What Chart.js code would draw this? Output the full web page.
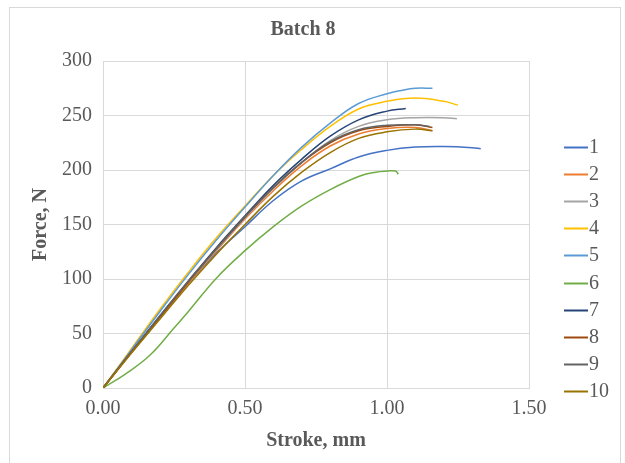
<!DOCTYPE html>
<html><head><meta charset="utf-8">
<script src="https://cdn.jsdelivr.net/npm/chart.js@4.4.1/dist/chart.umd.min.js"></script>
<style>
html,body{margin:0;padding:0;background:#fff;}
#wrap{position:relative;width:625px;height:463px;overflow:hidden;}
#frame{position:absolute;left:9px;top:7px;width:612px;height:470px;border:1px solid #d9d9d9;box-sizing:border-box;pointer-events:none;}
canvas{position:absolute;left:0;top:0;}
</style></head><body>
<div id="wrap"><canvas id="c" width="625" height="463"></canvas><div id="frame"></div></div>
<script>
// ---- data ----
const chartTitle = 'Batch 8';
const xAxisTitle = 'Stroke, mm';
const yAxisTitle = 'Force, N';
const seriesLabels = ['1','2','3','4','5','6','7','8','9','10'];
const seriesColors = ['#4472C4','#ED7D31','#A5A5A5','#FFC000','#5B9BD5','#70AD47','#264478','#9E480E','#636363','#997300'];

const stroke1 = [0,0.1,0.2,0.3,0.4,0.5,0.6,0.7,0.8,0.9,1.0,1.1,1.2,1.3,1.33];
const force1  = [0,33,65,96,124,148,172,190,201,212,218,221,221.5,220.5,219.5];
const stroke2 = [0,0.1,0.2,0.3,0.4,0.5,0.6,0.7,0.8,0.9,1.0,1.1,1.16];
const force2  = [0,32,64,96,126,155,181,204,222,233,238,239,236];
const stroke3 = [0,0.1,0.2,0.3,0.4,0.5,0.6,0.7,0.8,0.9,1.0,1.1,1.2,1.246];
const force3  = [0,33,65,97,127,156,183,207,227,240,246,248,248,247];
const stroke4 = [0,0.1,0.2,0.3,0.4,0.5,0.6,0.7,0.8,0.9,1.0,1.1,1.2,1.25];
const force4  = [0,36,72,106,138,167,195,219,240,256,263,266,263,259.5];
const stroke5 = [0,0.1,0.2,0.3,0.4,0.5,0.6,0.7,0.8,0.9,1.0,1.05,1.1,1.16];
const force5  = [0,35,70,104,136,166,195,221,243,261,270,273,275,275];
const stroke6 = [0,0.08,0.165,0.25,0.3,0.4,0.5,0.6,0.7,0.8,0.9,0.96,1.0,1.03,1.04];
const force6  = [0,13,30,55,70,101,126,148,167,182,194,198,199,199,196];
const stroke7 = [0,0.1,0.2,0.3,0.4,0.5,0.6,0.7,0.8,0.9,1.0,1.066];
const force7  = [0,33,66,98,129,158,186,210,231,246,254,256.5];
const stroke8 = [0,0.1,0.2,0.3,0.4,0.5,0.6,0.7,0.8,0.9,1.0,1.1,1.16];
const force8  = [0,33,65,97,128,157,184,207,225,236,240,241.5,239];
const stroke9 = [0,0.1,0.2,0.3,0.4,0.5,0.6,0.7,0.8,0.9,1.0,1.1,1.15];
const force9  = [0,33,66,98,128,157,184,207,226,237,241,241.5,240];
const stroke10 = [0,0.1,0.2,0.3,0.4,0.5,0.6,0.7,0.8,0.9,1.0,1.1,1.16];
const force10  = [0,32,63,94,123,150,176,198,216,229,235,237.5,236];

const yTicks = [0,50,100,150,200,250,300];
const xTicks = [0,0.5,1.0,1.5];

const strokes = [stroke1,stroke2,stroke3,stroke4,stroke5,stroke6,stroke7,stroke8,stroke9,stroke10];
const forces  = [force1,force2,force3,force4,force5,force6,force7,force8,force9,force10];

const textColor = '#595959';
const gridColor = '#d9d9d9';
const serif = '"Liberation Serif", "Times New Roman", serif';

const datasets = seriesLabels.map((lab, i) => ({
  label: lab,
  data: strokes[i].map((x, j) => ({x: x, y: forces[i][j]})),
  borderColor: seriesColors[i],
  backgroundColor: seriesColors[i],
  borderWidth: 1.5,
  pointRadius: 0,
  tension: 0.4,
  fill: false,
  order: seriesLabels.length - i
}));

const sideLegend = {
  id: 'sideLegend',
  afterDraw(chart) {
    const ctx = chart.ctx;
    ctx.save();
    ctx.font = '20px ' + serif;
    ctx.textBaseline = 'middle';
    ctx.textAlign = 'left';
    chart.data.datasets.forEach((ds, i) => {
      const y = Math.round(147 + i * 27.1) + 0.5;
      ctx.strokeStyle = ds.borderColor;
      ctx.lineWidth = 2;
      ctx.beginPath(); ctx.moveTo(564, y); ctx.lineTo(588, y); ctx.stroke();
      ctx.fillStyle = textColor;
      ctx.fillText(ds.label, 589, y);
    });
    ctx.restore();
  }
};

new Chart(document.getElementById('c'), {
  type: 'line',
  data: { datasets: datasets },
  plugins: [sideLegend],
  options: {
    responsive: false,
    animation: false,
    devicePixelRatio: 1,
    layout: { padding: { left: 10, right: 29, top: 0, bottom: 0 } },
    plugins: {
      legend: { display: false },
      tooltip: { enabled: false },
      title: {
        display: true, text: chartTitle, color: textColor,
        font: { family: serif, size: 20, weight: 'bold' },
        padding: { top: 18, bottom: 19 }
      }
    },
    scales: {
      x: {
        type: 'linear', min: 0, max: 1.5,
        afterBuildTicks: s => { s.ticks = xTicks.map(v => ({value: v})); },
        afterFit: s => { s.height = 75; },
        grid: { color: gridColor, drawTicks: false },
        border: { color: gridColor },
        ticks: { color: textColor, font: { family: serif, size: 20 }, padding: 9, maxRotation: 0,
                 callback: v => Number(v).toFixed(2) },
        title: { display: true, text: xAxisTitle, color: textColor,
                 font: { family: serif, size: 20, weight: 'bold' }, padding: { top: 10, bottom: 10 } }
      },
      y: {
        type: 'linear', min: 0, max: 300,
        afterBuildTicks: s => { s.ticks = yTicks.map(v => ({value: v})); },
        afterFit: s => { s.width = 93; },
        grid: { color: gridColor, drawTicks: false },
        border: { color: gridColor },
        ticks: { color: textColor, font: { family: serif, size: 20 }, padding: 11 },
        title: { display: true, text: yAxisTitle, color: textColor,
                 font: { family: serif, size: 20, weight: 'bold' }, padding: { top: 19, bottom: 19 } }
      },
      yR: {
        type: 'linear', position: 'right', display: true,
        grid: { display: false }, border: { display: false },
        ticks: { display: false }, title: { display: false },
        afterFit: s => { s.width = 67; }
      }
    }
  }
});
</script>
</body></html>
